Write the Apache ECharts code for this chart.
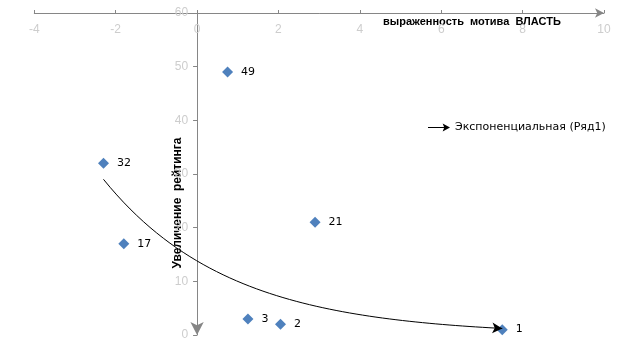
<!DOCTYPE html>
<html><head><meta charset="utf-8">
<script src="https://cdn.jsdelivr.net/npm/echarts@6/dist/echarts.min.js"></script>
<style>html,body{margin:0;padding:0;background:#fff}#c{width:617px;height:361px}</style>
</head><body><div id="c"></div>
<script>
// Data
const xValues = [0.75, -2.3, -1.8, 2.9, 1.25, 2.05, 7.5];
const yValues = [49, 32, 17, 21, 3, 2, 1];
const xTicks = [-4, -2, 0, 2, 4, 6, 8, 10];
const yTicks = [0, 10, 20, 30, 40, 50, 60];
const xTitle = 'выраженность  мотива  ВЛАСТЬ';
const yTitle = 'Увеличение  рейтинга';
const trendName = 'Экспоненциальная (Ряд1)';

// Exponential trendline y = A*exp(b*x) fitted to the data (least squares on ln y)
const n = xValues.length;
const lny = yValues.map(v => Math.log(v));
const mx = xValues.reduce((a, b) => a + b, 0) / n;
const my = lny.reduce((a, b) => a + b, 0) / n;
let sxy = 0, sxx = 0;
for (let i = 0; i < n; i++) { sxy += (xValues[i] - mx) * (lny[i] - my); sxx += (xValues[i] - mx) ** 2; }
const b = sxy / sxx, A = Math.exp(my - b * mx);
const xmin = Math.min(...xValues), xmax = Math.max(...xValues);
const trend = [];
for (let i = 0; i <= 60; i++) { const x = xmin + (xmax - xmin) * i / 60; trend.push([x, A * Math.exp(b * x)]); }
const pts = xValues.map((x, i) => [x, yValues[i]]);

const gridLeft = 34.3, gridRight = 13;
const plotW = 617 - gridLeft - gridRight;
const zeroOffset = plotW * (0 - xTicks[0]) / (xTicks[xTicks.length - 1] - xTicks[0]);

const faint = '#cdcdcd';
const chart = echarts.init(document.getElementById('c'), null, { renderer: 'canvas' });
chart.setOption({
  animation: false,
  grid: { left: gridLeft, right: gridRight, top: 13, bottom: 26, containLabel: false },
  xAxis: {
    type: 'value', position: 'top', min: xTicks[0], max: xTicks[xTicks.length - 1], interval: 2,
    axisLine: { onZero: false, lineStyle: { color: '#868686', width: 1 }, symbol: ['none', 'arrow'], symbolSize: [7, 9] },
    axisTick: { show: true, length: 3, inside: false, lineStyle: { color: '#868686' } },
    axisLabel: { inside: true, margin: 11, color: faint, fontSize: 12, fontFamily: 'Liberation Sans' },
    splitLine: { show: false }
  },
  yAxis: {
    type: 'value', position: 'left', offset: -zeroOffset,
    min: yTicks[0], max: yTicks[yTicks.length - 1], interval: 10,
    axisLine: { onZero: false, lineStyle: { color: '#868686', width: 1 }, symbol: ['arrow', 'none'], symbolSize: [10, 13] },
    axisTick: { show: true, length: 4, lineStyle: { color: '#868686' } },
    axisLabel: { margin: 9, color: faint, fontSize: 12, fontFamily: 'Liberation Sans' },
    splitLine: { show: false }
  },
  legend: {
    data: [{ name: trendName, icon: 'path://M0,3.2 L16,3.2 L16,4.2 L0,4.2 Z M14,0 L21,3.7 L14,7.4 L15.5,3.7 Z' }],
    left: 423, top: 117, itemWidth: 22, itemHeight: 8, itemGap: 6,
    textStyle: { color: '#000', fontSize: 11, fontFamily: 'DejaVu Sans' }
  },
  graphic: [
    { type: 'text', left: 383, top: 16, style: { text: xTitle, font: 'bold 11px "Liberation Sans"', fill: '#000' } },
    { type: 'text', x: 178, y: 203, rotation: Math.PI / 2,
      style: { text: yTitle, font: 'bold 12px "Liberation Sans"', fill: '#000', align: 'center', verticalAlign: 'middle' } }
  ],
  series: [
    {
      name: 'Ряд1', type: 'scatter', data: pts, symbol: 'diamond', symbolSize: 11,
      itemStyle: { color: '#4f81bd', opacity: 1 },
      label: { show: true, position: 'right', distance: 8, formatter: p => p.value[1], color: '#000', fontSize: 11, fontFamily: 'DejaVu Sans' },
      z: 3
    },
    {
      name: trendName, type: 'line', data: trend, showSymbol: false, smooth: false,
      lineStyle: { color: '#000', width: 1 }, itemStyle: { color: '#000' },
      markLine: {
        silent: true, symbol: ['none', 'arrow'], symbolSize: [8, 10], label: { show: false },
        lineStyle: { color: '#000', width: 1, type: 'solid' },
        data: [[{ coord: trend[trend.length - 2] }, { coord: trend[trend.length - 1] }]]
      },
      z: 2
    }
  ]
});
</script></body></html>
